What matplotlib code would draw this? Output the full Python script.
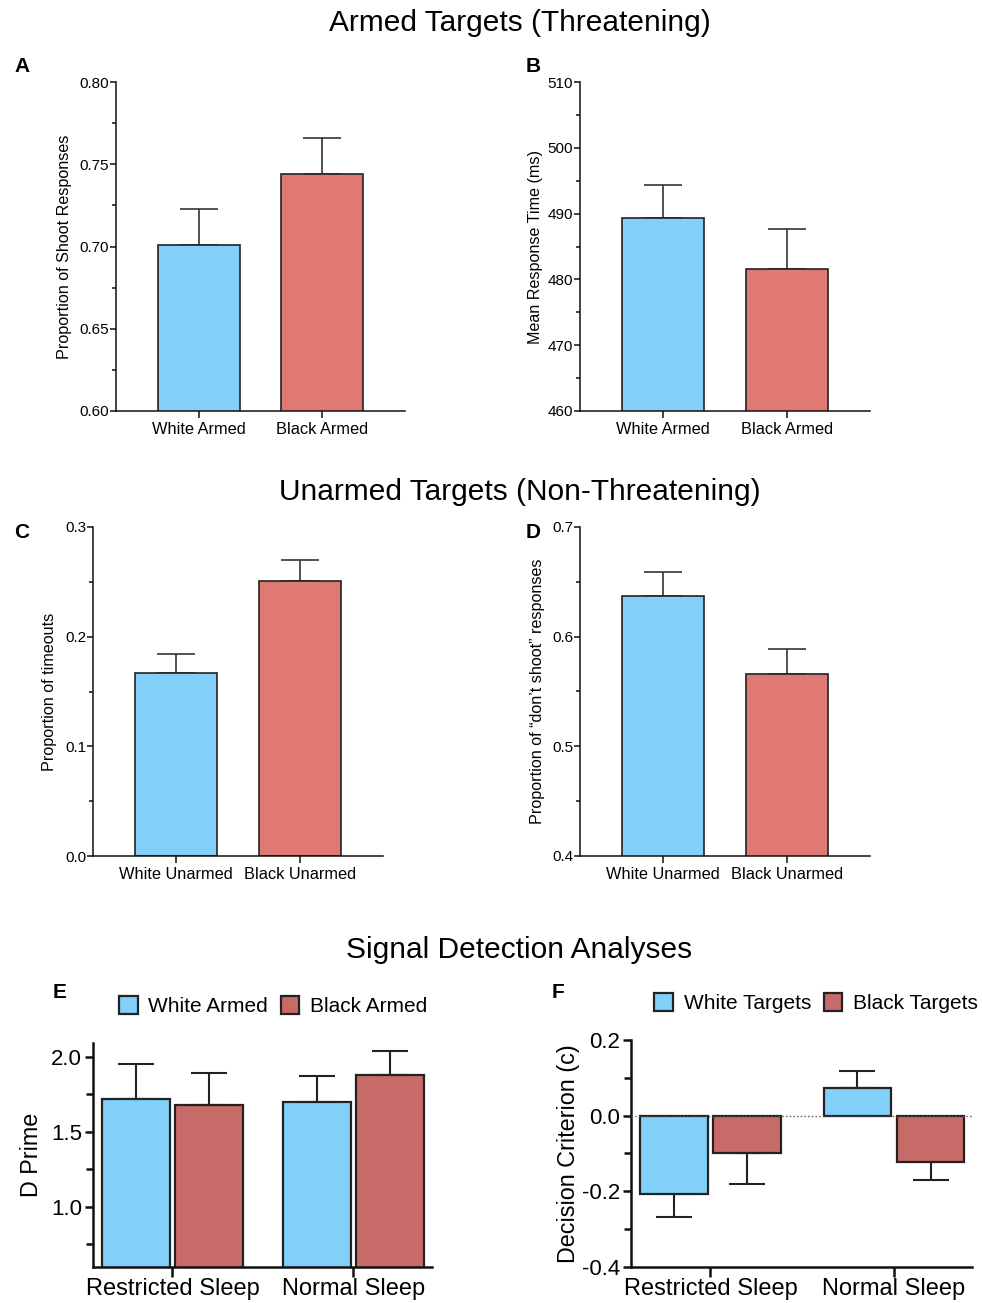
import matplotlib
matplotlib.use("Agg")
import matplotlib.pyplot as plt
from matplotlib.patches import Patch
from matplotlib.ticker import MultipleLocator

plt.rcParams['font.family'] = ['Liberation Sans', 'DejaVu Sans']
plt.rcParams['axes.unicode_minus'] = False

W, H = 982, 1303
BLUE = '#82CFFA'
RED = '#E07874'
RED2 = '#C86A68'
EDGE = '#222222'

# panel A - armed, proportion shoot
a_labels = ['White Armed', 'Black Armed']
a_means = [0.701, 0.744]
a_err = [0.022, 0.022]

# panel B - armed, response time
b_labels = ['White Armed', 'Black Armed']
b_means = [489.4, 481.6]
b_err = [4.9, 6.0]

# panel C - unarmed, timeouts
c_labels = ['White Unarmed', 'Black Unarmed']
c_means = [0.167, 0.251]
c_err = [0.017, 0.019]

# panel D - unarmed, don't shoot
d_labels = ['White Unarmed', 'Black Unarmed']
d_means = [0.637, 0.566]
d_err = [0.022, 0.023]

# panel E / F - signal detection
sleep_groups = ['Restricted Sleep', 'Normal Sleep']
e_white = [1.72, 1.70]
e_white_err = [0.23, 0.17]
e_black = [1.68, 1.88]
e_black_err = [0.21, 0.16]

f_white = [-0.208, 0.072]
f_white_err = [0.060, 0.046]
f_black = [-0.100, -0.123]
f_black_err = [0.080, 0.047]

fig = plt.figure(figsize=(W / 100, H / 100), dpi=100)


def px_axes(left, top, right, bottom):
    return fig.add_axes([left / W, 1 - bottom / H, (right - left) / W, (bottom - top) / H])


def style(ax, lw):
    for s in ['top', 'right']:
        ax.spines[s].set_visible(False)
    for s in ['left', 'bottom']:
        ax.spines[s].set_linewidth(lw)
        ax.spines[s].set_color('#111111')
    ax.tick_params(axis='both', which='both', direction='out', width=lw, color='#111111')


def one_sided(vals, errs):
    lo = [e if v < 0 else 0 for v, e in zip(vals, errs)]
    hi = [0 if v < 0 else e for v, e in zip(vals, errs)]
    return [lo, hi]


def small_panel(box, labels, means, errs, ylim, major, minor, fmt, ylabel, label_x):
    ax = px_axes(*box)
    style(ax, 1.1)
    x = [0, 1]
    ax.bar(x, means, width=0.667, color=[BLUE, RED], edgecolor=EDGE, linewidth=1.2, zorder=2)
    ax.errorbar(x, means, yerr=one_sided(means, errs), fmt='none', ecolor='#333333',
                elinewidth=1.2, capsize=14, capthick=1.2, zorder=1)
    ax.set_xlim(-0.675, 1.675)
    ax.set_ylim(*ylim)
    ax.yaxis.set_major_locator(MultipleLocator(major))
    ax.yaxis.set_minor_locator(MultipleLocator(minor))
    ax.yaxis.set_major_formatter(fmt)
    ax.set_xticks(x)
    ax.set_xticklabels(labels, fontsize=11.8)
    ax.tick_params(axis='y', which='major', labelsize=11, length=4, pad=1)
    ax.tick_params(axis='y', which='minor', length=3)
    ax.tick_params(axis='x', length=5, pad=3)
    ax.set_ylabel(ylabel, fontsize=11.6)
    ax.yaxis.set_label_coords((label_x - box[0]) / (box[2] - box[0]), 0.5)
    return ax


small_panel((116, 82, 405, 411), a_labels, a_means, a_err, (0.6, 0.8), 0.05, 0.025,
            '{x:.2f}', 'Proportion of Shoot Responses', 72)
small_panel((580, 82, 870, 411), b_labels, b_means, b_err, (460, 510), 10, 5,
            '{x:.0f}', 'Mean Response Time (ms)', 543)
small_panel((93, 527, 383, 856), c_labels, c_means, c_err, (0.0, 0.3), 0.1, 0.05,
            '{x:.1f}', 'Proportion of timeouts', 57)
small_panel((580, 527, 870, 856), d_labels, d_means, d_err, (0.4, 0.7), 0.1, 0.05,
            '{x:.1f}', 'Proportion of \u201cdon\u2019t shoot\u201d responses', 545)


def big_panel(box, white, werr, black, berr, ylim, major, minor, fmt, ylabel, label_x,
              legend_labels, legend_anchor, offset, width):
    ax = px_axes(*box)
    style(ax, 1.8)
    g = [0, 1]
    xw = [i - offset for i in g]
    xb = [i + offset for i in g]
    ax.bar(xw, white, width=width, color=BLUE, edgecolor=EDGE, linewidth=1.6, zorder=2)
    ax.bar(xb, black, width=width, color=RED2, edgecolor=EDGE, linewidth=1.6, zorder=2)
    ax.errorbar(xw, white, yerr=one_sided(white, werr), fmt='none', ecolor=EDGE,
                elinewidth=1.5, capsize=13, capthick=1.5, zorder=1)
    ax.errorbar(xb, black, yerr=one_sided(black, berr), fmt='none', ecolor=EDGE,
                elinewidth=1.5, capsize=13, capthick=1.5, zorder=1)
    ax.set_ylim(*ylim)
    ax.yaxis.set_major_locator(MultipleLocator(major))
    ax.yaxis.set_minor_locator(MultipleLocator(minor))
    ax.yaxis.set_major_formatter(fmt)
    ax.set_xticks(g)
    ax.set_xticklabels(sleep_groups, fontsize=17)
    ax.tick_params(axis='y', which='major', labelsize=16, length=6, pad=2)
    ax.tick_params(axis='y', which='minor', length=5)
    ax.tick_params(axis='x', length=7, pad=1)
    ax.set_ylabel(ylabel, fontsize=16.8)
    ax.yaxis.set_label_coords((label_x - box[0]) / (box[2] - box[0]), 0.5)
    handles = [Patch(facecolor=BLUE, edgecolor=EDGE, linewidth=1.6),
               Patch(facecolor=RED2, edgecolor=EDGE, linewidth=1.6)]
    ax.legend(handles, legend_labels, ncol=2, frameon=False, fontsize=15,
              loc='center', bbox_to_anchor=legend_anchor, bbox_transform=fig.transFigure,
              handlelength=0.9, handleheight=1.0, handletextpad=0.5, columnspacing=0.6)
    return ax


ax_e = big_panel((93, 1043, 432, 1267), e_white, e_white_err, e_black, e_black_err,
                 (0.6, 2.09), 0.5, 0.25, '{x:.1f}', 'D Prime', 43,
                 ['White Armed', 'Black Armed'], (273 / W, 1 - 1006 / H), 0.2017, 0.376)
ax_e.set_xlim(-0.439, 1.434)

ax_f = big_panel((631, 1040, 972, 1267), f_white, f_white_err, f_black, f_black_err,
                 (-0.4, 0.2), 0.2, 0.1, '{x:.1f}', 'Decision Criterion (c)', 580,
                 ['White Targets', 'Black Targets'], (816 / W, 1 - 1003 / H), 0.199, 0.37)
ax_f.set_xlim(-0.433, 1.425)
ax_f.axhline(0, color='#555555', linestyle=':', linewidth=1.0, zorder=3)

# section titles
fig.text(520 / W, 1 - 23 / H, 'Armed Targets (Threatening)', fontsize=21.5, ha='center', va='center')
fig.text(520 / W, 1 - 492 / H, 'Unarmed Targets (Non-Threatening)', fontsize=21.5, ha='center', va='center')
fig.text(519 / W, 1 - 950 / H, 'Signal Detection Analyses', fontsize=21.5, ha='center', va='center')

# panel letters
for letter, (x, y) in {'A': (22, 67), 'B': (533, 67), 'C': (22, 533), 'D': (533, 533),
                       'E': (60, 993), 'F': (558, 993)}.items():
    fig.text(x / W, 1 - y / H, letter, fontsize=15, fontweight='bold', ha='center', va='center')

fig.savefig('out.png', dpi=100)
